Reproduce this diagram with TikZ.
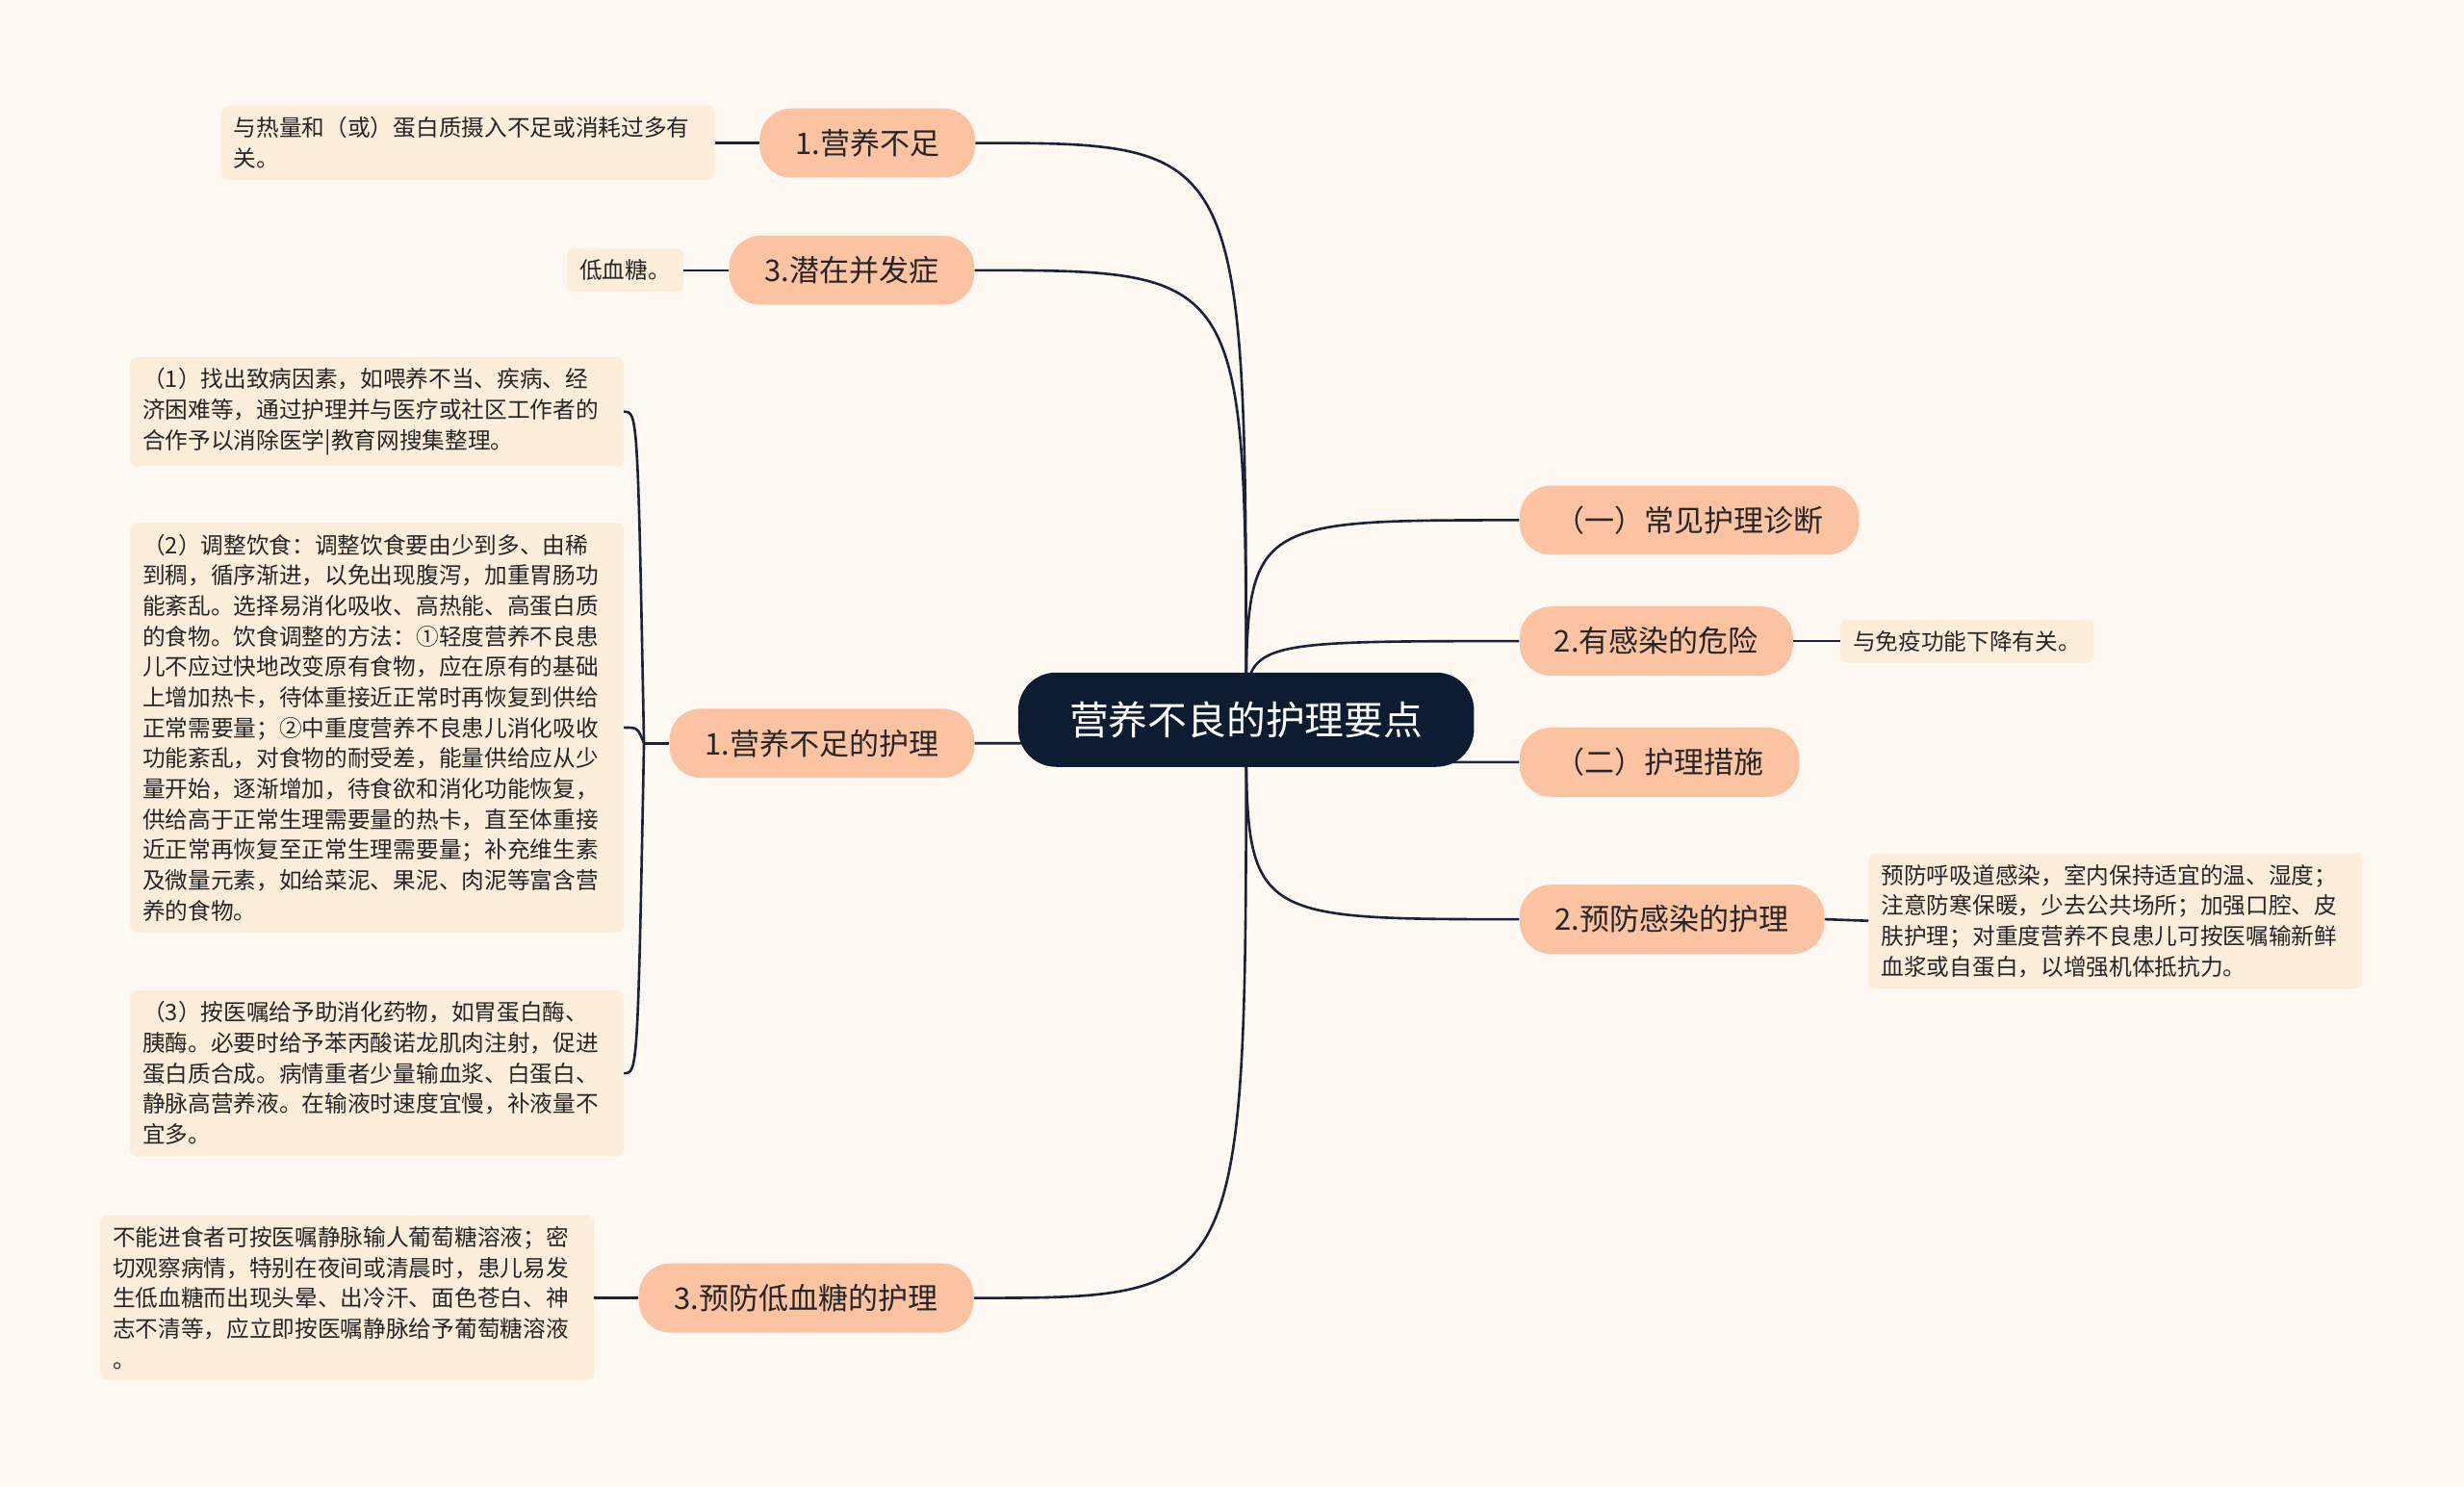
\documentclass[tikz,border=0pt]{standalone}
\usepackage{fontspec}
\setmainfont{Noto Sans CJK SC}
\definecolor{bg}{HTML}{FDF8F2}
\definecolor{br}{HTML}{FBC3A2}
\definecolor{lf}{HTML}{FDEEDC}
\definecolor{rt}{HTML}{0E1C31}
\definecolor{ln}{HTML}{1A2438}
\tikzset{
 branch/.style={rectangle,rounded corners=20pt,fill=br,minimum height=44pt,font=\fontsize{19}{22}\selectfont,text=black!85,inner xsep=14pt},
 leaf/.style={rectangle,rounded corners=4pt,fill=lf,font=\fontsize{14.5}{19.4}\selectfont,align=left,inner xsep=8pt,inner ysep=7pt,anchor=west,text=black!85},
 wleaf/.style={leaf,text width=298pt},
 con/.style={draw=ln,line width=1.6pt}
}
\begin{document}
\begin{tikzpicture}[x=1pt,y=-1pt]
\fill[bg] (0,0) rectangle (1568,946);
\useasboundingbox (0,0) rectangle (1568,946);
\coordinate (o) at (793,458);
\node[branch,minimum width=216pt] (r1) at (1075,331) {（一）常见护理诊断};
\node[branch,minimum width=174pt] (r2) at (1054,408) {2.有感染的危险};
\node[branch,minimum width=178pt] (r3) at (1056,485) {（二）护理措施};
\node[branch,minimum width=194pt] (r4) at (1064,585) {2.预防感染的护理};
\node[branch,minimum width=137pt] (l1) at (552,91) {1.营养不足};
\node[branch,minimum width=156pt] (l2) at (542,172) {3.潜在并发症};
\node[branch,minimum width=194pt] (l3) at (523,473) {1.营养不足的护理};
\node[branch,minimum width=213pt] (l4) at (513,826) {3.预防低血糖的护理};
\foreach \t in {r1,r2,r3,r4}{\draw[con] (o) .. controls (o |- \t.west) .. (\t.west);}
\foreach \t in {l1,l2,l3,l4}{\draw[con] (o) .. controls (o |- \t.east) .. (\t.east);}
\node[rectangle,rounded corners=24pt,fill=rt,minimum width=290pt,minimum height=60pt,text=white,font=\fontsize{25}{28}\selectfont] (root) at (793,458) {营养不良的护理要点};
\node[leaf] (a) at (1171,408) {与免疫功能下降有关。};
\node[wleaf] (b) at (1189,586) {预防呼吸道感染，室内保持适宜的温、湿度；\\注意防寒保暖，少去公共场所；加强口腔、皮\\肤护理；对重度营养不良患儿可按医嘱输新鲜\\血浆或自蛋白，以增强机体抵抗力。};
\node[wleaf,anchor=east] (c) at (455,91) {与热量和（或）蛋白质摄入不足或消耗过多有\\关。};
\node[leaf,anchor=east] (d) at (435,172) {低血糖。};
\node[wleaf,anchor=east] (e1) at (397,262) {（1）找出致病因素，如喂养不当、疾病、经\\济困难等，通过护理并与医疗或社区工作者的\\合作予以消除医学|教育网搜集整理。};
\node[wleaf,anchor=east] (e2) at (397,463) {（2）调整饮食：调整饮食要由少到多、由稀\\到稠，循序渐进，以免出现腹泻，加重胃肠功\\能紊乱。选择易消化吸收、高热能、高蛋白质\\的食物。饮食调整的方法：①轻度营养不良患\\儿不应过快地改变原有食物，应在原有的基础\\上增加热卡，待体重接近正常时再恢复到供给\\正常需要量；②中重度营养不良患儿消化吸收\\功能紊乱，对食物的耐受差，能量供给应从少\\量开始，逐渐增加，待食欲和消化功能恢复，\\供给高于正常生理需要量的热卡，直至体重接\\近正常再恢复至正常生理需要量；补充维生素\\及微量元素，如给菜泥、果泥、肉泥等富含营\\养的食物。};
\node[wleaf,anchor=east] (e3) at (397,683) {（3）按医嘱给予助消化药物，如胃蛋白酶、\\胰酶。必要时给予苯丙酸诺龙肌肉注射，促进\\蛋白质合成。病情重者少量输血浆、白蛋白、\\静脉高营养液。在输液时速度宜慢，补液量不\\宜多。};
\node[wleaf,anchor=east] (f) at (378,826) {不能进食者可按医嘱静脉输人葡萄糖溶液；密\\切观察病情，特别在夜间或清晨时，患儿易发\\生低血糖而出现头晕、出冷汗、面色苍白、神\\志不清等，应立即按医嘱静脉给予葡萄糖溶液\\。};
\draw[con] (r2.east) -- (a.west);
\draw[con] (r4.east) -- (b.west);
\draw[con] (l1.west) -- (c.east);
\draw[con] (l2.west) -- (d.east);
\draw[con] (l4.west) -- (f.east);
\draw[con] (l3.west) -- ++(-16,0) coordinate (j);
\foreach \t in {e1,e2,e3}{\draw[con] (j) .. controls ([xshift=-4pt]j |- \t.east) .. (\t.east);}
\end{tikzpicture}
\end{document}
